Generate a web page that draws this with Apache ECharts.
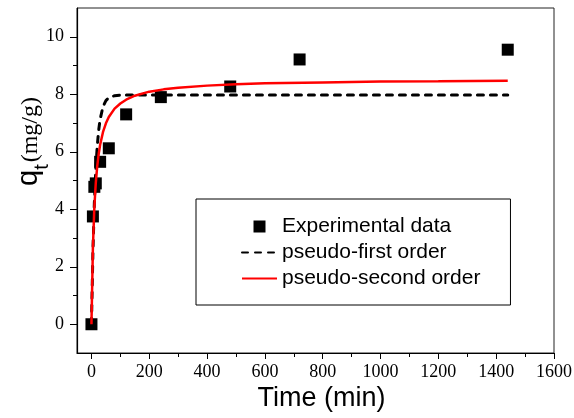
<!DOCTYPE html>
<html>
<head>
<meta charset="utf-8">
<script src="https://cdn.jsdelivr.net/npm/echarts@6/dist/echarts.min.js"></script>
<style>html,body{margin:0;padding:0;background:#fff}#c{width:574px;height:418px}</style>
</head>
<body>
<div id="c"></div>
<script>
// Experimental data
const expTime = [0, 5, 10, 15, 30, 60, 120, 240, 480, 720, 1440];
const expQt = [0, 3.75, 4.78, 4.9, 5.65, 6.12, 7.3, 7.9, 8.27, 9.21, 9.55];
// Fitted curves
const fitTime = [0, 5, 10, 15, 20, 25, 30, 40, 50, 60, 80, 100, 120, 150, 200, 250, 300, 400, 500, 600, 800, 1000, 1200, 1440];
const pfoQt = [0, 2.49, 4.21, 5.38, 6.19, 6.75, 7.13, 7.57, 7.78, 7.88, 7.95, 7.97, 7.97, 7.97, 7.97, 7.97, 7.97, 7.97, 7.97, 7.97, 7.97, 7.97, 7.97, 7.97];
const psoQt = [0, 2.67, 4.06, 4.92, 5.50, 5.92, 6.24, 6.69, 6.99, 7.21, 7.50, 7.68, 7.81, 7.95, 8.09, 8.17, 8.23, 8.30, 8.35, 8.38, 8.41, 8.44, 8.45, 8.47];
// Tick labels
const xMajor = [0, 200, 400, 600, 800, 1000, 1200, 1400, 1600];
const xMinor = [100, 300, 500, 700, 900, 1100, 1300, 1500];
const yMajor = [0, 2, 4, 6, 8, 10];
const yMinor = [1, 3, 5, 7, 9];
const names = ['Experimental data', 'pseudo-first order', 'pseudo-second order'];

const zip = (a, b) => a.map((v, i) => [v, b[i]]);
const serif = 'Liberation Serif';
const sans = 'Liberation Sans';

const chart = echarts.init(document.getElementById('c'));
const xRange = { min: -50, max: 1600 };
const yRange = { min: -1, max: 11 };
chart.setOption({
  animation: false,
  grid: { left: 77, right: 20, top: 8, bottom: 65, show: true, borderColor: '#222', borderWidth: 1, backgroundColor: 'transparent', outerBoundsMode: 'none', containLabel: false },
  legend: {
    data: [
      { name: names[0], icon: 'path://M0,0L10,0L10,10L0,10Z' },
      { name: names[1], itemStyle: { opacity: 0 } },
      { name: names[2], itemStyle: { opacity: 0 } }
    ],
    orient: 'vertical',
    left: 196, top: 199,
    padding: [17, 30, 16, 45],
    itemWidth: 35, itemHeight: 12, itemGap: 5,
    symbolKeepAspect: true,
    borderColor: '#000', borderWidth: 1,
    textStyle: { fontFamily: sans, fontSize: 21, color: '#000' },
    selectedMode: false
  },
  xAxis: [
    Object.assign({
      type: 'value', position: 'bottom',
      name: 'Time (min)', nameLocation: 'middle', nameGap: 32, nameMoveOverlap: false,
      nameTextStyle: { fontFamily: sans, fontSize: 27, color: '#000', padding: [0, 0, 0, 12] },
      axisLine: { onZero: false, lineStyle: { color: '#000', width: 1.2 } },
      axisTick: { show: true, inside: false, length: 6, customValues: xMajor, lineStyle: { color: '#000' } },
      axisLabel: { customValues: xMajor, margin: 10, fontFamily: serif, fontSize: 18, color: '#000', formatter: v => String(v) },
      splitLine: { show: false }
    }, xRange),
    Object.assign({
      type: 'value', position: 'bottom',
      axisLine: { show: false, onZero: false },
      axisTick: { show: true, inside: false, length: 4, customValues: xMinor, lineStyle: { color: '#000' } },
      axisLabel: { show: false },
      splitLine: { show: false }
    }, xRange)
  ],
  yAxis: [
    Object.assign({
      type: 'value', position: 'left',
      name: '{q|q}{t|t}{u|(mg/g)}', nameLocation: 'middle', nameGap: 25, nameRotate: 90, nameMoveOverlap: false,
      nameTextStyle: {
        color: '#000',
        padding: [0, 0, 0, 78],
        rich: {
          q: { fontFamily: sans, fontSize: 29, color: '#000', verticalAlign: 'bottom', lineHeight: 30, padding: [0, 0, 9, 0] },
          t: { fontFamily: sans, fontSize: 20, color: '#000', verticalAlign: 'bottom', lineHeight: 20, padding: [0, 2, 0, 0] },
          u: { fontFamily: serif, fontSize: 24, color: '#000', verticalAlign: 'bottom', lineHeight: 26, padding: [0, 0, 9, 0] }
        }
      },
      axisLine: { onZero: false, lineStyle: { color: '#000', width: 1.2 } },
      axisTick: { show: true, inside: false, length: 7, customValues: yMajor, lineStyle: { color: '#000' } },
      axisLabel: { customValues: yMajor, margin: 13, fontFamily: serif, fontSize: 18, color: '#000' },
      splitLine: { show: false }
    }, yRange),
    Object.assign({
      type: 'value', position: 'left',
      axisLine: { show: false, onZero: false },
      axisTick: { show: true, inside: false, length: 4, customValues: yMinor, lineStyle: { color: '#000' } },
      axisLabel: { show: false },
      splitLine: { show: false }
    }, yRange)
  ],
  series: [
    {
      name: names[0], type: 'scatter', data: zip(expTime, expQt),
      symbol: 'rect', symbolSize: 12, itemStyle: { color: '#000', opacity: 1 }, z: 2
    },
    {
      name: names[1], type: 'line', data: zip(fitTime, pfoQt), showSymbol: false,
      lineStyle: { color: '#000', width: 3, type: [6, 7], cap: 'round' }, itemStyle: { color: '#000' }, z: 3
    },
    {
      name: names[2], type: 'line', data: zip(fitTime, psoQt), showSymbol: false,
      lineStyle: { color: '#ff0000', width: 2.5 }, itemStyle: { color: '#ff0000' }, z: 4
    }
  ]
});
</script>
</body>
</html>
